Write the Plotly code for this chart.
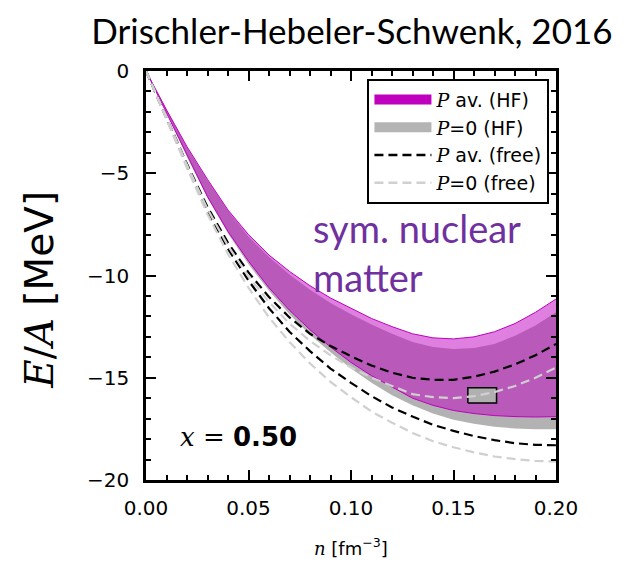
import plotly.graph_objects as go

# ---------------- data ----------------
n = [0.00, 0.01, 0.02, 0.03, 0.04, 0.05, 0.06, 0.07, 0.08, 0.09, 0.10,
     0.11, 0.12, 0.13, 0.14, 0.15, 0.16, 0.17, 0.18, 0.19, 0.20]

# P av. (HF) band
hf_pav_upper = [0, -1.9, -3.7, -5.3, -6.8, -8.0, -9.0, -9.8, -10.5, -11.1, -11.6,
                -12.1, -12.5, -12.85, -13.05, -13.1, -13.0, -12.75, -12.35, -11.8, -11.15]
hf_pav_lower = [0, -2.05, -4.15, -6.15, -7.85, -9.3, -10.6, -11.7, -12.65, -13.5, -14.25,
                -14.9, -15.45, -16.0, -16.35, -16.6, -16.75, -16.85, -16.9, -16.92, -16.9]

# P=0 (HF) band
hf_p0_upper = [0, -1.9, -3.75, -5.35, -6.85, -8.1, -9.1, -9.95, -10.7, -11.35, -11.9,
               -12.4, -12.85, -13.25, -13.5, -13.6, -13.55, -13.35, -12.95, -12.45, -11.8]
hf_p0_lower = [0, -2.05, -4.2, -6.2, -7.95, -9.45, -10.75, -11.9, -12.9, -13.75, -14.55,
               -15.25, -15.85, -16.35, -16.75, -17.05, -17.25, -17.4, -17.48, -17.52, -17.52]

# P av. (free) lines
free_pav_upper = [0, -2.25, -4.55, -6.65, -8.4, -9.85, -11.05, -12.05, -12.85, -13.45, -13.95,
                  -14.4, -14.75, -15.0, -15.1, -15.1, -14.95, -14.7, -14.35, -13.9, -13.35]
free_pav_lower = [0, -2.3, -4.65, -6.85, -8.7, -10.25, -11.6, -12.75, -13.7, -14.55, -15.25,
                  -15.9, -16.45, -16.9, -17.3, -17.6, -17.85, -18.05, -18.2, -18.28, -18.3]

# P=0 (free) lines
free_p0_upper = [0, -2.25, -4.6, -6.75, -8.55, -10.05, -11.3, -12.35, -13.2, -13.9, -14.5,
                 -15.0, -15.4, -15.8, -15.95, -16.0, -15.9, -15.7, -15.4, -15.0, -14.5]
free_p0_lower = [0, -2.35, -4.75, -7.0, -8.95, -10.6, -12.05, -13.25, -14.3, -15.2, -15.95,
                 -16.65, -17.2, -17.7, -18.1, -18.4, -18.65, -18.85, -18.98, -19.07, -19.1]

# empirical saturation box
sat_n = [0.157, 0.171]
sat_E = [-16.23, -15.49]

x_ticks = [0.00, 0.05, 0.10, 0.15, 0.20]
y_ticks = [0, -5, -10, -15, -20]

MAGENTA = "rgb(191,0,191)"
MAGENTA_FILL = "rgba(191,0,191,0.5)"
GRAY_FILL = "rgb(178,178,178)"
LIGHT = "rgb(208,208,208)"
SERIF_P = "<span style='font-family:DejaVu Serif'><i>P</i></span>"
DASH = "9px,5px"

fig = go.Figure()

# P=0 (HF) band
fig.add_trace(go.Scatter(x=n, y=hf_p0_lower, mode="lines", line=dict(width=0, color=GRAY_FILL),
                         showlegend=False, hoverinfo="skip"))
fig.add_trace(go.Scatter(x=n, y=hf_p0_upper, mode="lines", line=dict(width=0, color=GRAY_FILL),
                         fill="tonexty", fillcolor=GRAY_FILL, showlegend=False, hoverinfo="skip"))
# P av. (HF) band
fig.add_trace(go.Scatter(x=n, y=hf_pav_lower, mode="lines", line=dict(width=1, color=MAGENTA),
                         showlegend=False, hoverinfo="skip"))
fig.add_trace(go.Scatter(x=n, y=hf_pav_upper, mode="lines", line=dict(width=1, color=MAGENTA),
                         fill="tonexty", fillcolor=MAGENTA_FILL, showlegend=False, hoverinfo="skip"))

# saturation box
fig.add_trace(go.Scatter(x=[sat_n[0], sat_n[1], sat_n[1], sat_n[0], sat_n[0]],
                         y=[sat_E[0], sat_E[0], sat_E[1], sat_E[1], sat_E[0]],
                         mode="lines", fill="toself", fillcolor="rgb(176,176,176)",
                         line=dict(color="black", width=1.5), showlegend=False, hoverinfo="skip"))

# free lines
fig.add_trace(go.Scatter(x=n, y=free_pav_upper, mode="lines",
                         line=dict(color="black", width=2.2, dash=DASH), showlegend=False))
fig.add_trace(go.Scatter(x=n, y=free_pav_lower, mode="lines",
                         line=dict(color="black", width=2.2, dash=DASH), showlegend=False))
fig.add_trace(go.Scatter(x=n, y=free_p0_upper, mode="lines",
                         line=dict(color=LIGHT, width=2.2, dash=DASH), showlegend=False))
fig.add_trace(go.Scatter(x=n, y=free_p0_lower, mode="lines",
                         line=dict(color=LIGHT, width=2.2, dash=DASH), showlegend=False))

# legend entries
fig.add_trace(go.Scatter(x=[None], y=[None], mode="lines",
                         line=dict(width=15, color=MAGENTA), name=SERIF_P + " av. (HF)"))
fig.add_trace(go.Scatter(x=[None], y=[None], mode="lines",
                         line=dict(width=15, color="rgb(180,180,180)"), name=SERIF_P + "=0 (HF)"))
fig.add_trace(go.Scatter(x=[None], y=[None], mode="lines",
                         line=dict(color="black", width=2.5, dash=DASH),
                         name=SERIF_P + " av. (free)"))
fig.add_trace(go.Scatter(x=[None], y=[None], mode="lines",
                         line=dict(color=LIGHT, width=2.5, dash=DASH),
                         name=SERIF_P + "=0 (free)"))

axis_common = dict(showline=True, linecolor="black", linewidth=2.5, mirror="allticks",
                   ticks="inside", tickcolor="black", tickwidth=1.5, ticklen=10,
                   showgrid=False, zeroline=False,
                   tickfont=dict(family="DejaVu Sans", size=20, color="black"))

fig.update_xaxes(range=[0, 0.2], tickvals=x_ticks, tickformat=".2f",
                 minor=dict(ticks="inside", dtick=0.01, ticklen=5, tickcolor="black", tickwidth=1.5),
                 ticklabelstandoff=8, **axis_common)
fig.update_yaxes(range=[-20, 0], tickvals=y_ticks,
                 minor=dict(ticks="inside", dtick=1, ticklen=5, tickcolor="black", tickwidth=1.5),
                 ticklabelstandoff=10, **axis_common)

fig.add_annotation(text="<span style='font-family:DejaVu Serif'><i>E</i>/<i>A</i></span> [MeV]",
                   xref="paper", yref="paper", x=-0.2585, y=0.465, xanchor="center", yanchor="middle",
                   textangle=-90, showarrow=False,
                   font=dict(family="DejaVu Sans", size=39, color="black"))
fig.add_annotation(text="<span style='font-family:DejaVu Serif'><i>n</i></span> [fm<sup>−3</sup>]",
                   xref="paper", yref="paper", x=0.5, y=-0.165, xanchor="center", yanchor="middle",
                   showarrow=False, font=dict(family="DejaVu Sans", size=18, color="black"))

fig.add_annotation(text="sym. nuclear<br>matter", x=0.0805, y=-6.45, xanchor="left", yanchor="top",
                   align="left", showarrow=False,
                   font=dict(family="Lato", size=38, color="#7030A0"))
fig.add_annotation(text="<span style='font-family:DejaVu Serif'><i>x</i> =</span> <b>0.50</b>",
                   x=0.0155, y=-17.9, xanchor="left", yanchor="middle", showarrow=False,
                   font=dict(family="DejaVu Sans", size=26, color="black"))

fig.update_layout(
    width=622, height=559,
    margin=dict(l=138, r=74, t=63, b=87),
    paper_bgcolor="white", plot_bgcolor="white",
    title=dict(text="Drischler-Hebeler-Schwenk, 2016", xref="container", yref="container",
               x=0.553, y=0.958, xanchor="center", yanchor="middle",
               font=dict(family="Lato", size=35, color="black")),
    legend=dict(x=0.984, y=0.981, xanchor="right", yanchor="top", traceorder="normal",
                bordercolor="black", borderwidth=2, bgcolor="white",
                itemwidth=57, font=dict(family="DejaVu Sans", size=19, color="black")),
    showlegend=True,
)

fig.write_html("out.html")
